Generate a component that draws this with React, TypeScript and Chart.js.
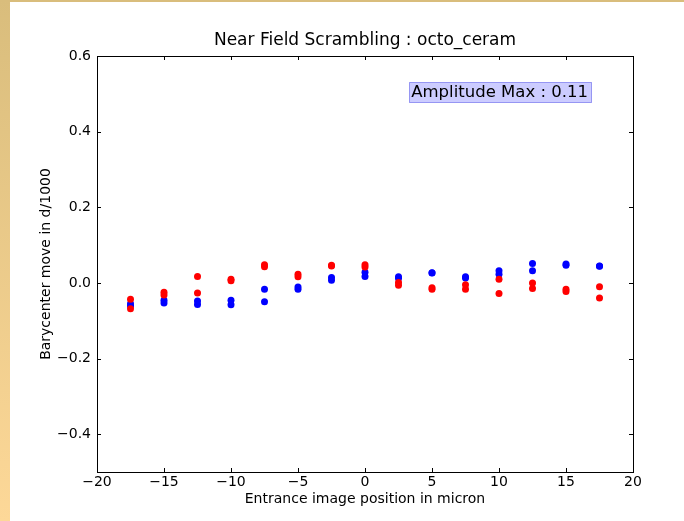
import React, { useEffect, useRef } from "react";
import { Chart, registerables } from "chart.js";

Chart.register(...registerables);

const positions = [-17.5, -15, -12.5, -10, -7.5, -5, -2.5, 0, 2.5, 5, 7.5, 10, 12.5, 15, 17.5];
const blueA = [-0.055, -0.046, -0.048, -0.046, -0.017, -0.011, 0.014, 0.028, 0.016, 0.027, 0.016, 0.032, 0.051, 0.05, 0.044];
const blueB = [-0.061, -0.053, -0.057, -0.058, -0.05, -0.017, 0.007, 0.017, 0.012, 0.026, 0.013, 0.023, 0.032, 0.047, 0.045];
const redA = [-0.043, -0.025, 0.017, 0.01, 0.048, 0.023, 0.047, 0.048, 0.001, -0.013, -0.005, 0.01, 0.0, -0.017, -0.01];
const redB = [-0.068, -0.032, -0.027, 0.006, 0.043, 0.016, 0.045, 0.042, -0.006, -0.017, -0.017, -0.028, -0.015, -0.023, -0.04];

const xTicks = [-20, -15, -10, -5, 0, 5, 10, 15, 20];
const yTicks = [-0.4, -0.2, 0, 0.2, 0.4, 0.6];
const xRange = [-20, 20];
const yRange = [-0.5, 0.6];

const titleText = "Near Field Scrambling : octo_ceram";
const xLabel = "Entrance image position in micron";
const yLabel = "Barycenter move in d/1000";
const annotationText = "Amplitude Max : 0.11";
const annotationAt = [3.45, 0.505];

const FONT = "'DejaVu Sans', 'Liberation Sans', sans-serif";

function fmt(v: number, decimals: number): string {
  const s = Math.abs(v).toFixed(decimals);
  return v < 0 ? "\u2212" + s : s;
}

function pts(ys: number[]) {
  return positions.map((x, i) => ({ x, y: ys[i] }));
}

const framePlugin = {
  id: "mplFrame",
  afterDatasetsDraw(chart: any) {
    const { ctx, chartArea: a, scales } = chart;
    const xs = scales.x;
    const ys = scales.y;
    const L = Math.round(a.left);
    const R = Math.round(a.right);
    const T = Math.round(a.top);
    const B = Math.round(a.bottom);
    ctx.save();
    ctx.strokeStyle = "#000";
    ctx.lineWidth = 1;
    ctx.beginPath();
    const tl = 4;
    xTicks.forEach((v) => {
      const px = Math.round(xs.getPixelForValue(v)) + 0.5;
      ctx.moveTo(px, B);
      ctx.lineTo(px, B - tl);
      ctx.moveTo(px, T);
      ctx.lineTo(px, T + tl);
    });
    yTicks.forEach((v) => {
      const py = Math.round(ys.getPixelForValue(v)) + 0.5;
      ctx.moveTo(L, py);
      ctx.lineTo(L + tl, py);
      ctx.moveTo(R, py);
      ctx.lineTo(R - tl, py);
    });
    ctx.stroke();
    ctx.strokeRect(L + 0.5, T + 0.5, R - L, B - T);
    ctx.restore();
  },
  afterDraw(chart: any) {
    const { ctx, chartArea: a, scales } = chart;
    const xs = scales.x;
    const ys = scales.y;
    const cx = (a.left + a.right) / 2;
    const cy = (a.top + a.bottom) / 2;
    ctx.save();
    ctx.fillStyle = "#000";
    // title
    ctx.font = `17px ${FONT}`;
    ctx.textAlign = "center";
    ctx.textBaseline = "alphabetic";
    ctx.fillText(titleText, cx, 45);
    // x label
    ctx.font = `14px ${FONT}`;
    ctx.fillText(xLabel, cx, 503);
    // y label
    ctx.save();
    ctx.translate(50, cy);
    ctx.rotate(-Math.PI / 2);
    ctx.fillText(yLabel, 0, 0);
    ctx.restore();
    // annotation
    ctx.font = `16.5px ${FONT}`;
    const ax = xs.getPixelForValue(annotationAt[0]);
    const ay = ys.getPixelForValue(annotationAt[1]);
    const w = ctx.measureText(annotationText).width;
    const bx = Math.round(ax - 2) + 0.5;
    const by = Math.round(ay - 10) + 0.5;
    const bw = Math.round(w + 5);
    const bh = 20;
    ctx.fillStyle = "rgba(0,0,255,0.2)";
    ctx.fillRect(bx, by, bw, bh);
    ctx.strokeStyle = "rgba(0,0,220,0.35)";
    ctx.lineWidth = 1;
    ctx.strokeRect(bx, by, bw, bh);
    ctx.fillStyle = "#000";
    ctx.textAlign = "left";
    ctx.textBaseline = "alphabetic";
    ctx.fillText(annotationText, ax, ay + 5);
    ctx.restore();
  },
};

export default function App() {
  const ref = useRef<HTMLCanvasElement | null>(null);

  useEffect(() => {
    if (!ref.current) return;
    const dot = (color: string) => ({
      backgroundColor: color,
      borderColor: color,
      pointBackgroundColor: color,
      pointBorderColor: color,
      pointBorderWidth: 0,
      pointRadius: 3.5,
      pointHoverRadius: 3.5,
      showLine: false,
    });
    const chart = new Chart(ref.current, {
      type: "scatter",
      data: {
        datasets: [
          { label: "red A", data: pts(redA), ...dot("#ff0000") },
          { label: "red B", data: pts(redB), ...dot("#ff0000") },
          { label: "blue A", data: pts(blueA), ...dot("#0000ff") },
          { label: "blue B", data: pts(blueB), ...dot("#0000ff") },
        ],
      },
      options: {
        animation: false,
        responsive: false,
        maintainAspectRatio: false,
        devicePixelRatio: 1,
        layout: { padding: { left: 0, top: 56, right: 51, bottom: 0 } },
        plugins: {
          legend: { display: false },
          title: { display: false },
          tooltip: { enabled: false },
        },
        scales: {
          x: {
            type: "linear",
            min: xRange[0],
            max: xRange[1],
            grid: { display: false, drawTicks: false },
            border: { display: false },
            afterBuildTicks: (s: any) => {
              s.ticks = xTicks.map((v) => ({ value: v }));
            },
            afterFit: (s: any) => {
              s.height = 49;
            },
            ticks: {
              padding: 2,
              color: "#000",
              font: { family: FONT, size: 14 },
              maxRotation: 0,
              autoSkip: false,
              callback: (v: any) => fmt(Number(v), 0),
            },
          },
          y: {
            type: "linear",
            min: yRange[0],
            max: yRange[1],
            grid: { display: false, drawTicks: false },
            border: { display: false },
            afterBuildTicks: (s: any) => {
              s.ticks = yTicks.map((v) => ({ value: v }));
            },
            afterFit: (s: any) => {
              s.width = 97;
            },
            ticks: {
              padding: 6,
              color: "#000",
              font: { family: FONT, size: 14 },
              autoSkip: false,
              callback: (v: any) => fmt(Number(v), 1),
            },
          },
        },
      },
      plugins: [framePlugin],
    });
    return () => chart.destroy();
  }, []);

  return (
    <div style={{ position: "fixed", left: 0, top: 0, width: 684, height: 521, background: "#fff", overflow: "hidden" }}>
      <canvas ref={ref} width={684} height={521} style={{ position: "absolute", left: 0, top: 0, width: 684, height: 521 }} />
      <div style={{ position: "absolute", left: 0, top: 0, width: 10, height: 521, background: "linear-gradient(to bottom, #d9bd7c, #fdd898)" }} />
      <div style={{ position: "absolute", left: 0, top: 0, width: 684, height: 2, background: "#d9bd7c" }} />
    </div>
  );
}
